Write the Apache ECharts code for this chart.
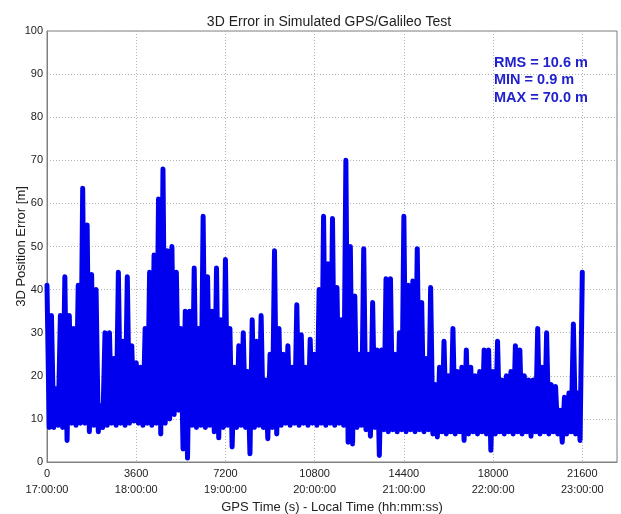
<!DOCTYPE html>
<html>
<head>
<meta charset="utf-8">
<script src="https://cdn.jsdelivr.net/npm/echarts@6/dist/echarts.min.js"></script>
<style>
  html, body { margin: 0; padding: 0; background: #fff; }
  #chart { width: 621px; height: 514px; }
</style>
</head>
<body>
<div id="chart"></div>
<script>
// 3D position error, one sample every 90 s from 0 s (17:00:00 local) to 21600 s (23:00:00)
const sampleStep = 90;
const errVals = [
  // 0 - 1710 s
  41, 8, 34, 8, 17, 8.5, 34, 8, 43, 5, 34, 9, 31, 8.5, 41, 9, 63.5, 9, 55, 7,
  // 1800 - 3510 s
  43.5, 8.5, 40, 7, 13, 8, 30, 8.5, 30, 9, 24, 8.5, 44, 9, 28, 8.5, 43, 9, 27, 9.5,
  // 3600 - 5310 s
  23, 9, 22, 8.5, 31, 9, 44, 8.5, 48, 9, 61, 6.5, 68, 9, 49, 10, 50, 11, 44, 12,
  // 5400 - 7110 s
  31, 3, 35, 0.9, 35, 8.5, 45, 8, 31, 8.5, 57, 8, 43, 8.5, 35, 7, 45, 5.6, 33, 8,
  // 7200 - 8910 s
  47, 8.5, 31, 3.5, 22, 8, 27, 8.5, 30, 8, 21, 1.9, 33, 8, 28, 8.5, 34, 8, 19, 5.4,
  // 9000 - 10710 s
  25, 8, 49, 6.5, 31, 8.5, 25, 9, 27, 8.5, 22, 9, 36.5, 8.5, 29.5, 9, 22, 8.5, 28.5, 9,
  // 10800 - 12510 s
  25, 8.5, 40, 9, 57, 8.5, 46, 9, 56.5, 8.5, 40.5, 9, 33, 8.5, 70.0, 4.6, 50, 4.2, 38.5, 8,
  // 12600 - 14310 s
  25, 8.5, 49.5, 7.5, 25, 6, 37, 8, 26, 1.5, 26, 7.5, 42.5, 7, 42.5, 7.5, 25, 7, 30, 7.5,
  // 14400 - 16110 s
  57, 7, 41, 7.5, 42, 7, 49.5, 7.5, 37, 7, 24, 7.5, 40.5, 6.5, 18, 5.8, 22, 7, 28, 6.5,
  // 16200 - 17910 s
  20, 7, 31, 6.5, 21, 7, 22, 5, 26, 6.5, 22, 7, 20, 6.5, 21, 7, 26, 6.5, 26, 2.7,
  // 18000 - 19710 s
  21, 6.5, 28, 7, 19, 6.5, 20, 7, 21, 6.5, 27, 7, 26, 6.5, 20, 7, 19, 6, 19, 7,
  // 19800 - 21600 s
  31, 6.5, 22, 7, 30, 6.5, 18, 7, 17.5, 6.5, 12, 4.6, 15, 6.5, 16, 7, 32, 6.5, 16, 5,
  44
];

// x-axis ticks: GPS seconds with the matching local clock time underneath
const secTicks = [0, 3600, 7200, 10800, 14400, 18000, 21600];
const clockTicks = ['17:00:00', '18:00:00', '19:00:00', '20:00:00', '21:00:00', '22:00:00', '23:00:00'];

// summary statistics printed in the upper right of the plot
const statLines = ['RMS = 10.6 m', 'MIN = 0.9 m', 'MAX = 70.0 m'];

const FONT = '"Liberation Sans", Arial, sans-serif';
const seriesData = errVals.map((v, i) => [i * sampleStep, v]);

const chart = echarts.init(document.getElementById('chart'), null, { renderer: 'canvas' });
chart.setOption({
  animation: false,
  backgroundColor: '#ffffff',
  title: {
    text: '3D Error in Simulated GPS/Galileo Test',
    left: 324,
    top: 10,
    textAlign: 'center',
    textStyle: { fontFamily: FONT, fontSize: 14, fontWeight: 'normal', color: '#222' }
  },
  grid: {
    left: 47, right: 4, top: 31, bottom: 52,
    containLabel: false,
    outerBoundsMode: 'none',
    show: true, borderColor: '#808080', borderWidth: 1, backgroundColor: '#fff'
  },
  xAxis: {
    type: 'value',
    min: 0,
    max: 23000,
    interval: 3600,
    name: 'GPS Time (s) - Local Time (hh:mm:ss)',
    nameLocation: 'middle',
    nameGap: 39,
    nameMoveOverlap: false,
    nameTextStyle: { fontFamily: FONT, fontSize: 13, color: '#222' },
    axisLine: { show: true, lineStyle: { color: '#808080' } },
    axisTick: { show: false },
    axisLabel: {
      margin: 4,
      fontFamily: FONT,
      fontSize: 11,
      lineHeight: 16,
      color: '#222',
      showMaxLabel: false,
      formatter: function (val) {
        const k = secTicks.indexOf(val);
        return k < 0 ? '' : secTicks[k] + '\n' + clockTicks[k];
      }
    },
    splitLine: { show: true, lineStyle: { color: '#b4b4b4', type: [1, 2], width: 1 } }
  },
  yAxis: {
    type: 'value',
    min: 0,
    max: 100,
    interval: 10,
    name: '3D Position Error [m]',
    nameLocation: 'middle',
    nameGap: 19,
    nameMoveOverlap: false,
    nameTextStyle: { fontFamily: FONT, fontSize: 13, color: '#222' },
    axisLine: { show: true, lineStyle: { color: '#808080' } },
    axisTick: { show: false },
    axisLabel: { margin: 4, fontFamily: FONT, fontSize: 11, color: '#222' },
    splitLine: { show: true, lineStyle: { color: '#b4b4b4', type: [1, 2], width: 1 } }
  },
  series: [{
    type: 'line',
    data: seriesData,
    showSymbol: false,
    lineStyle: { color: '#0000ee', width: 5, join: 'round', cap: 'round' },
    itemStyle: { color: '#0000ee' },
    z: 3
  }],
  graphic: statLines.map((s, k) => ({
    type: 'text',
    left: 494,
    top: 55 + k * 17.5,
    z: 10,
    style: {
      text: s,
      fill: '#2222cc',
      font: 'bold 14.5px ' + FONT
    }
  }))
});
</script>
</body>
</html>
